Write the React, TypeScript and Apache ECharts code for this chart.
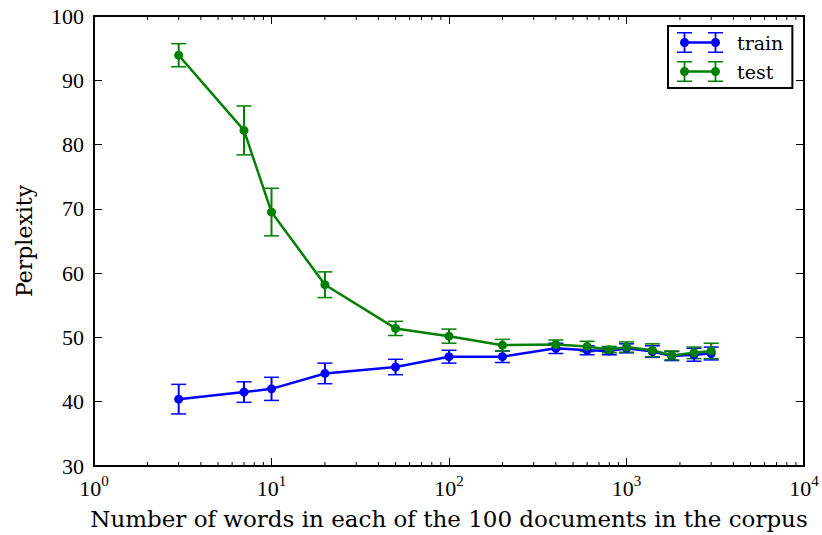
import React, { useEffect, useRef } from "react";
import * as echarts from "echarts";

const xValues = [3, 7, 10, 20, 50, 100, 200, 400, 600, 800, 1000, 1400, 1800, 2400, 3000];
const trainMean = [40.4, 41.5, 42.0, 44.4, 45.4, 47.0, 47.0, 48.3, 48.0, 47.9, 48.3, 47.8, 47.1, 47.3, 47.5];
const trainErr = [2.3, 1.6, 1.8, 1.6, 1.2, 1.0, 0.9, 0.8, 0.7, 0.6, 0.7, 0.9, 0.7, 1.0, 1.0];
const testMean = [93.9, 82.2, 69.5, 58.2, 51.4, 50.2, 48.8, 48.9, 48.6, 48.1, 48.5, 48.0, 47.2, 47.6, 47.9];
const testErr = [1.8, 3.8, 3.7, 2.0, 1.1, 1.1, 0.9, 0.7, 0.8, 0.5, 0.8, 1.0, 0.7, 0.9, 1.2];
const minorTickValues = [
  2, 3, 4, 5, 6, 7, 8, 9,
  20, 30, 40, 50, 60, 70, 80, 90,
  200, 300, 400, 500, 600, 700, 800, 900,
  2000, 3000, 4000, 5000, 6000, 7000, 8000, 9000,
];
const yMin = 30;
const yMax = 100;
const yStep = 10;
const xMin = 1;
const xMax = 10000;

const BLUE = "#0000ff";
const GREEN = "#008000";
const NUM_FONT = "Liberation Serif";
const TXT_FONT = "DejaVu Serif";

function rectP(x: number, y: number, w: number, h: number) {
  return `M${x} ${y}h${w}v${h}h${-w}Z`;
}
function circP(cx: number, cy: number, r: number) {
  return `M${cx - r} ${cy}a${r} ${r} 0 1 1 ${2 * r} 0a${r} ${r} 0 1 1 ${-2 * r} 0Z`;
}
function legendIconPath() {
  const W = 46, H = 21, c1 = 7.5, c2 = 38.5, cy = 10.5;
  let d = "";
  d += rectP(c1, cy - 1.25, c2 - c1, 2.5);
  d += rectP(c1 - 0.9, 0, 1.8, H);
  d += rectP(c2 - 0.9, 0, 1.8, H);
  d += rectP(0, 0, 15, 1.5);
  d += rectP(0, H - 1.5, 15, 1.5);
  d += rectP(W - 15, 0, 15, 1.5);
  d += rectP(W - 15, H - 1.5, 15, 1.5);
  d += circP(c1, cy, 4.5);
  d += circP(c2, cy, 4.5);
  return "path://" + d;
}

function errorSeries(name: string, mean: number[], err: number[], color: string) {
  return {
    name,
    type: "custom",
    silent: true,
    xAxisIndex: 0,
    yAxisIndex: 0,
    data: xValues.map((x, i) => [x, mean[i] - err[i], mean[i] + err[i]]),
    encode: { x: 0, y: [1, 2] },
    renderItem: (params: any, api: any) => {
      const x = api.value(0);
      const pLo = api.coord([x, api.value(1)]);
      const pHi = api.coord([x, api.value(2)]);
      const hw = 7.5;
      const st = { stroke: color, lineWidth: 2 };
      const cap = { stroke: color, lineWidth: 1.5 };
      return {
        type: "group",
        children: [
          { type: "line", shape: { x1: pHi[0], y1: pHi[1], x2: pLo[0], y2: pLo[1] }, style: st },
          { type: "line", shape: { x1: pHi[0] - hw, y1: pHi[1], x2: pHi[0] + hw, y2: pHi[1] }, style: cap },
          { type: "line", shape: { x1: pLo[0] - hw, y1: pLo[1], x2: pLo[0] + hw, y2: pLo[1] }, style: cap },
        ],
      };
    },
  };
}

function lineSeries(name: string, mean: number[], color: string) {
  return {
    name,
    type: "line",
    xAxisIndex: 0,
    yAxisIndex: 0,
    data: xValues.map((x, i) => [x, mean[i]]),
    symbol: "circle",
    symbolSize: 9,
    showSymbol: true,
    color,
    lineStyle: { color, width: 2.5 },
    itemStyle: { color, borderWidth: 0 },
  };
}

export default function App() {
  const ref = useRef<HTMLDivElement>(null);
  useEffect(() => {
    if (!ref.current) return;
    const chart = echarts.init(ref.current, undefined, { renderer: "svg" });
    const axisLine = { show: true, onZero: false, lineStyle: { color: "#000", width: 2 } };
    const tick = { show: true, inside: true, length: 8, lineStyle: { color: "#000", width: 1 } };
    const supLabel = (v: number) => `{b|10}{s|${Math.round(Math.log10(v))}}`;
    chart.setOption({
      animation: false,
      backgroundColor: "#fff",
      grid: { left: 94, right: 18, top: 16, bottom: 66, containLabel: false },
      legend: {
        data: ["train", "test"],
        orient: "vertical",
        left: 668,
        top: 26,
        padding: [6, 9, 6, 9],
        itemWidth: 46,
        itemHeight: 21,
        itemGap: 8,
        icon: legendIconPath(),
        borderColor: "#000",
        borderWidth: 2,
        borderRadius: 0,
        backgroundColor: "#fff",
        selectedMode: false,
        itemStyle: { borderWidth: 0 },
        textStyle: { fontFamily: TXT_FONT, fontSize: 19, color: "#000", padding: [0, 0, 0, 9] },
      },
      xAxis: [
        {
          type: "log",
          logBase: 10,
          min: xMin,
          max: xMax,
          position: "bottom",
          axisLine,
          axisTick: tick,
          splitLine: { show: false },
          name: "Number of words in each of the 100 documents in the corpus",
          nameLocation: "middle",
          nameGap: 41,
          nameTextStyle: { fontFamily: TXT_FONT, fontSize: 23, color: "#000" },
          axisLabel: {
            margin: 7,
            showMinLabel: true,
            showMaxLabel: true,
            formatter: supLabel,
            rich: {
              b: { fontFamily: NUM_FONT, fontSize: 22, color: "#000", lineHeight: 30 },
              s: { fontFamily: NUM_FONT, fontSize: 15, color: "#000", lineHeight: 14, verticalAlign: "top" },
            },
          },
        },
        {
          type: "log",
          logBase: 10,
          min: xMin,
          max: xMax,
          position: "top",
          axisLine,
          axisTick: tick,
          axisLabel: { show: false },
          splitLine: { show: false },
        },
      ],
      yAxis: [
        {
          type: "value",
          min: yMin,
          max: yMax,
          interval: yStep,
          position: "left",
          axisLine,
          axisTick: tick,
          splitLine: { show: false },
          name: "Perplexity",
          nameLocation: "middle",
          nameGap: 59,
          nameTextStyle: { fontFamily: TXT_FONT, fontSize: 22, color: "#000" },
          axisLabel: { margin: 10, fontFamily: NUM_FONT, fontSize: 22, color: "#000" },
        },
        {
          type: "value",
          min: yMin,
          max: yMax,
          interval: yStep,
          position: "right",
          axisLine,
          axisTick: tick,
          axisLabel: { show: false },
          splitLine: { show: false },
        },
      ],
      series: [
        {
          name: "minor-ticks",
          type: "custom",
          silent: true,
          xAxisIndex: 0,
          yAxisIndex: 0,
          data: minorTickValues.map((x) => [x, yMin, yMax]),
          encode: { x: 0, y: [1, 2] },
          renderItem: (params: any, api: any) => {
            const x = api.value(0);
            const b = api.coord([x, api.value(1)]);
            const t = api.coord([x, api.value(2)]);
            const st = { stroke: "#000", lineWidth: 1 };
            return {
              type: "group",
              children: [
                { type: "line", shape: { x1: b[0], y1: b[1], x2: b[0], y2: b[1] - 4 }, style: st },
                { type: "line", shape: { x1: t[0], y1: t[1], x2: t[0], y2: t[1] + 4 }, style: st },
              ],
            };
          },
        },
        errorSeries("train-err", trainMean, trainErr, BLUE),
        lineSeries("train", trainMean, BLUE),
        errorSeries("test-err", testMean, testErr, GREEN),
        lineSeries("test", testMean, GREEN),
      ],
    });
    return () => chart.dispose();
  }, []);
  return (
    <div
      ref={ref}
      style={{ position: "fixed", left: 0, top: 0, width: 822, height: 535, background: "#fff" }}
    />
  );
}
